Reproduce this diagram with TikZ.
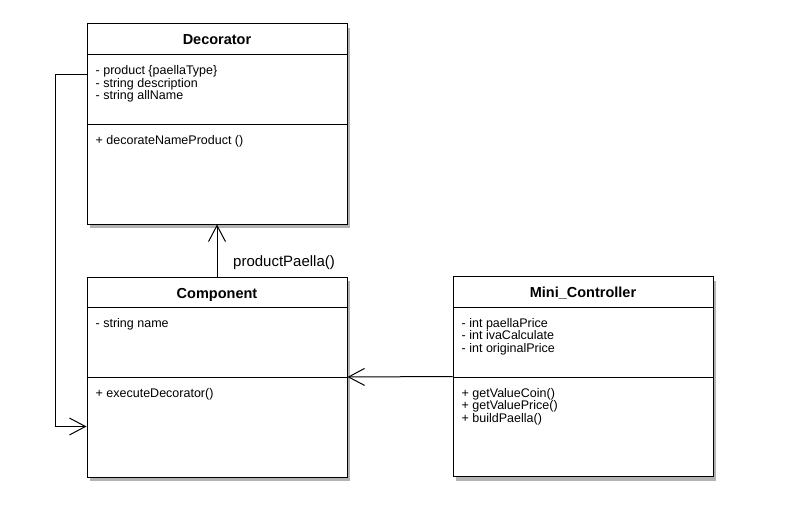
\documentclass[tikz,border=0pt]{standalone}
\usepackage{fontspec}
\setmainfont{Liberation Sans}
\usetikzlibrary{
arrows.meta,
positioning,
shadows
}
\tikzset{
  classbox/.style={draw, line width=1pt, fill=white, inner sep=0pt,
    minimum width=260pt, minimum height=200pt,
    drop shadow={shadow xshift=3pt, shadow yshift=-4pt, fill=black!40, opacity=0.75}},
  classname/.style={anchor=base, inner sep=0pt, font=\bfseries\fontsize{14.5}{14.5}\selectfont},
  members/.style={inner sep=0pt, align=left, font=\fontsize{12.5}{12.5}\selectfont},
  sepline/.style={line width=1pt},
  assoc/.style={-{Straight Barb[length=16pt,width=17pt]}, line width=1pt}
}
\begin{document}
\begin{tikzpicture}[x=1pt, y=-1pt]
    \useasboundingbox (0,0) rectangle (806,516);
    % classes
    \node [classbox] (dec) at (217,124) {};
    \node [classbox] (comp) at (217,377) {};
    \node [classbox] (mini) at (583,376.5) {};
    \node [classname] (dectitle) at ([yshift=-21.5pt]dec.north) {Decorator};
    \node [classname] (comptitle) at ([yshift=-21.5pt]comp.north) {Component};
    \node [classname] (minititle) at ([yshift=-21.5pt]mini.north) {Mini\_Controller};
    \draw[sepline] ([yshift=-31pt]dec.north west) -- ([yshift=-31pt]dec.north east);
    \draw[sepline] ([yshift=-101pt]dec.north west) -- ([yshift=-101pt]dec.north east);
    \draw[sepline] ([yshift=-31pt]comp.north west) -- ([yshift=-31pt]comp.north east);
    \draw[sepline] ([yshift=-101pt]comp.north west) -- ([yshift=-101pt]comp.north east);
    \draw[sepline] ([yshift=-31pt]mini.north west) -- ([yshift=-31pt]mini.north east);
    \draw[sepline] ([yshift=-101pt]mini.north west) -- ([yshift=-101pt]mini.north east);
    % attributes and methods
    \node [members, below right = 42pt and 9pt of dec.north west] (decattr)
      {- product \{paellaType\}\\- string description\\- string allName};
    \node [members, below right = 112pt and 9pt of dec.north west] (decmeth)
      {+ decorateNameProduct ()};
    \node [members, below right = 42pt and 9pt of comp.north west] (compattr)
      {- string name};
    \node [members, below right = 112pt and 9pt of comp.north west] (compmeth)
      {+ executeDecorator()};
    \node [members, below right = 42pt and 9pt of mini.north west] (miniattr)
      {- int paellaPrice\\- int ivaCalculate\\- int originalPrice};
    \node [members, below right = 112pt and 9pt of mini.north west] (minimeth)
      {+ getValueCoin()\\+ getValuePrice()\\+ buildPaella()};
    % connectors
    \draw[assoc] (comp.north) -- (dec.south);
    \node [anchor=base west, inner sep=0pt, font=\fontsize{15}{15}\selectfont] (paellalbl)
      at ([xshift=16pt, yshift=10pt]comp.north) {productPaella()};
    \draw[assoc] ([yshift=-51pt]dec.north west) -- ++(-31pt,0) |- ([yshift=-150pt]comp.north west);
    \draw[assoc] (mini.west) -- (comp.east);
  \end{tikzpicture}
\end{document}
